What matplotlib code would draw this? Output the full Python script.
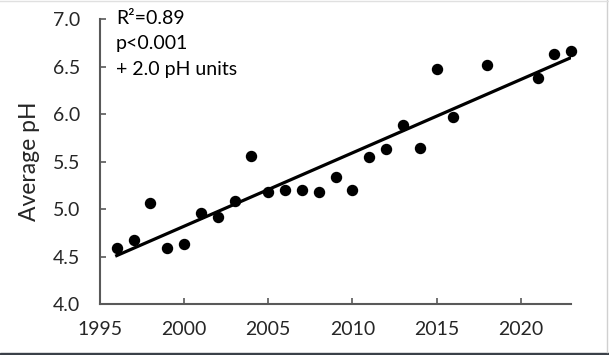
import numpy as np
import matplotlib
matplotlib.use("Agg")
import matplotlib.pyplot as plt
from matplotlib.lines import Line2D
from matplotlib.patches import Rectangle

# данные
years = [1996, 1997, 1998, 1999, 2000, 2001, 2002, 2003, 2004, 2005,
         2006, 2007, 2008, 2009, 2010, 2011, 2012, 2013, 2014, 2015,
         2016, 2018, 2021, 2022, 2023]
ph = [4.59, 4.67, 5.06, 4.59, 4.63, 4.96, 4.92, 5.08, 5.56, 5.18,
      5.20, 5.20, 5.18, 5.34, 5.20, 5.55, 5.63, 5.89, 5.64, 6.47,
      5.97, 6.52, 6.38, 6.63, 6.66]
x_ticks = [1995, 2000, 2005, 2010, 2015, 2020]
y_ticks = [4.0, 4.5, 5.0, 5.5, 6.0, 6.5, 7.0]
stats_lines = ["R\u00b2=0.89", "p<0.001", "+ 2.0 pH units"]

plt.rcParams['font.family'] = ['Lato', 'DejaVu Sans']

fig = plt.figure(figsize=(6.09, 3.55), dpi=100)
ax = fig.add_axes([0.164, 0.1437, 0.774, 0.8023])

ax.plot(years, ph, 'o', color='black', markersize=7.2, zorder=3, clip_on=False)

# линейный тренд
k, b = np.polyfit(years, ph, 1)
xs = np.array([years[0], years[-1]])
ax.plot(xs, k * xs + b, color='black', lw=2.3, zorder=2)

ax.set_xlim(1995, 2023)
ax.set_ylim(4.0, 7.0)
ax.set_xticks(x_ticks)
ax.set_yticks(y_ticks)
ax.set_yticklabels([f"{v:.1f}" for v in y_ticks])

for side in ['top', 'right']:
    ax.spines[side].set_visible(False)
for side in ['left', 'bottom']:
    ax.spines[side].set_color('#595959')
    ax.spines[side].set_linewidth(1.5)

ax.tick_params(axis='both', direction='in', length=4.5, width=1.2,
               color='#595959', labelsize=14, labelcolor='#262626')
ax.tick_params(axis='x', pad=12.5)
ax.tick_params(axis='y', pad=14)

ax.set_ylabel("Average pH", fontsize=16.5, color='#262626')
ax.yaxis.set_label_coords(-0.128, 0.5)

for i, s in enumerate(stats_lines):
    fig.text(116 / 609, 1 - (18 + 26 * i) / 355, s, fontsize=14,
             color='black', va='center', ha='left')

# рамка скриншота
fig.add_artist(Line2D([606.5 / 609, 606.5 / 609], [3 / 355, 1], color='#d0d0d0', lw=1))
fig.add_artist(Line2D([0, 1], [354.5 / 355, 354.5 / 355], color='#e0e0e0', lw=1))
fig.add_artist(Rectangle((0, 0), 1, 2.5 / 355, color='#3a4048', transform=fig.transFigure))

fig.savefig("out.png", dpi=100)
